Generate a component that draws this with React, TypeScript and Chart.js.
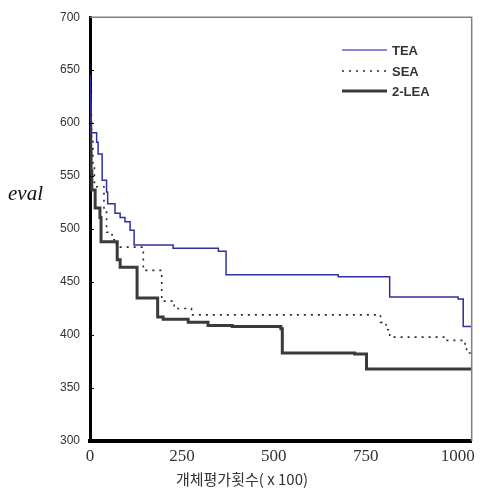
import React, { useEffect, useRef } from "react";
import { Chart, registerables } from "chart.js";

Chart.register(...registerables);

// ---- data ----
const X_TICKS = [0, 250, 500, 750, 1000];
const X_MIN = 0;
const X_MAX = 1038;
const Y_MIN = 300;
const Y_MAX = 700;
const Y_STEP = 50;

const SERIES_NAMES = ["TEA", "SEA", "2-LEA"];

// step change points: at x the value becomes y
const teaX = [0, 1, 2, 3, 18, 22, 33, 45, 48, 68, 82, 95, 109, 120, 226, 349, 370, 675, 702, 815, 1001, 1015, 1038];
const teaY = [645, 628, 610, 591, 582, 571, 546, 535, 524, 515, 511, 507, 499, 485, 482, 479, 457, 455, 455, 436, 434, 408, 408];

const seaX = [0, 2, 4, 8, 12, 38, 45, 60, 72, 145, 195, 229, 276, 790, 805, 815, 962, 1015, 1020, 1024, 1038];
const seaY = [640, 610, 585, 560, 540, 516, 497, 490, 483, 461, 432, 425, 419, 412, 405, 398, 395, 392, 389, 383, 383];

const leaX = [0, 1, 2, 3, 5, 14, 27, 30, 74, 82, 128, 184, 199, 267, 321, 387, 519, 523, 720, 752, 1038];
const leaY = [620, 600, 575, 555, 537, 520, 511, 488, 471, 464, 435, 417, 415, 412, 409, 408, 406, 383, 382, 368, 368];

const X_TITLE = "개체평가횟수( x 100)";
const Y_TITLE = "eval";

const zip = (xs: number[], ys: number[]) => xs.map((x, i) => ({ x, y: ys[i] }));

const annotations = {
  id: "annotations",
  afterDraw(chart: any) {
    const { ctx, chartArea, scales } = chart;
    const { left, right, top, bottom } = chartArea;
    ctx.save();
    // frame (top + right)
    ctx.strokeStyle = "#808080";
    ctx.lineWidth = 1.5;
    ctx.beginPath();
    ctx.moveTo(left, top);
    ctx.lineTo(right, top);
    ctx.lineTo(right, bottom);
    ctx.stroke();
    // small inner y ticks
    ctx.strokeStyle = "#000";
    ctx.lineWidth = 1;
    for (let v = Y_MIN + Y_STEP; v < Y_MAX; v += Y_STEP) {
      const y = Math.round(scales.y.getPixelForValue(v)) + 0.5;
      ctx.beginPath();
      ctx.moveTo(left, y);
      ctx.lineTo(left + 4, y);
      ctx.stroke();
    }
    // legend
    const ds = chart.data.datasets;
    const lx0 = 342, lx1 = 387;
    const ly = [50, 71, 91];
    ds.forEach((d: any, i: number) => {
      ctx.strokeStyle = i === 0 ? "#6464c4" : d.borderColor;
      ctx.lineWidth = i === 0 ? 1.5 : d.borderWidth;
      ctx.setLineDash(d.borderDash || []);
      ctx.beginPath();
      ctx.moveTo(lx0, ly[i]);
      ctx.lineTo(lx1, ly[i]);
      ctx.stroke();
      ctx.setLineDash([]);
      ctx.fillStyle = "#333";
      ctx.font = "bold 13px 'Liberation Sans', Arial, sans-serif";
      ctx.textAlign = "left";
      ctx.textBaseline = "middle";
      ctx.fillText(d.label, 392, ly[i] + 1);
    });
    // y title
    ctx.fillStyle = "#111";
    ctx.font = "italic 21px 'Liberation Serif', 'Times New Roman', serif";
    ctx.textAlign = "left";
    ctx.textBaseline = "alphabetic";
    ctx.fillText(Y_TITLE, 8, 200);
    // x title
    ctx.fillStyle = "#333";
    ctx.font = "15px 'Noto Sans CJK KR', sans-serif";
    ctx.textAlign = "center";
    ctx.textBaseline = "middle";
    ctx.fillText(X_TITLE, 242, 479);
    ctx.restore();
  },
};

export default function App() {
  const ref = useRef<HTMLCanvasElement>(null);
  useEffect(() => {
    document.body.style.margin = "0";
    const chart = new Chart(ref.current as HTMLCanvasElement, {
      type: "line",
      data: {
        datasets: [
          {
            label: SERIES_NAMES[0],
            data: zip(teaX, teaY),
            borderColor: "#30309c",
            borderWidth: 1.5,
            stepped: "before",
            pointRadius: 0,
            fill: false,
          },
          {
            label: SERIES_NAMES[1],
            data: zip(seaX, seaY),
            borderColor: "#2a2a2a",
            borderWidth: 1.6,
            borderDash: [2, 5],
            stepped: "before",
            pointRadius: 0,
            fill: false,
          },
          {
            label: SERIES_NAMES[2],
            data: zip(leaX, leaY),
            borderColor: "#3a3a3a",
            borderWidth: 3,
            stepped: "before",
            pointRadius: 0,
            fill: false,
          },
        ],
      },
      options: {
        responsive: false,
        animation: false,
        layout: { padding: { left: 0, top: 17, right: 8, bottom: 0 } },
        plugins: { legend: { display: false }, tooltip: { enabled: false } },
        scales: {
          x: {
            type: "linear",
            min: X_MIN,
            max: X_MAX,
            afterBuildTicks: (scale: any) => {
              scale.ticks = X_TICKS.map((v) => ({ value: v }));
            },
            afterFit: (scale: any) => {
              scale.height = 50;
            },
            grid: { drawOnChartArea: false, drawTicks: false },
            border: { display: true, color: "#000", width: 4 },
            ticks: {
              autoSkip: false,
              maxRotation: 0,
              padding: 5,
              color: "#333",
              font: { family: "'Liberation Serif', 'Times New Roman', serif", size: 17 },
              callback: (v: any) => String(v),
            },
          },
          y: {
            min: Y_MIN,
            max: Y_MAX,
            afterFit: (scale: any) => {
              scale.width = 90;
            },
            grid: { drawOnChartArea: false, drawTicks: false },
            border: { display: true, color: "#000", width: 3 },
            ticks: {
              stepSize: Y_STEP,
              padding: 10,
              color: "#333",
              font: { family: "'Liberation Sans', Arial, sans-serif", size: 12 },
            },
          },
        },
      },
      plugins: [annotations],
    });
    return () => chart.destroy();
  }, []);
  return (
    <div style={{ position: "absolute", left: 0, top: 0, width: 480, height: 491, background: "#fff" }}>
      <canvas ref={ref} width={480} height={491} style={{ display: "block" }} />
    </div>
  );
}
